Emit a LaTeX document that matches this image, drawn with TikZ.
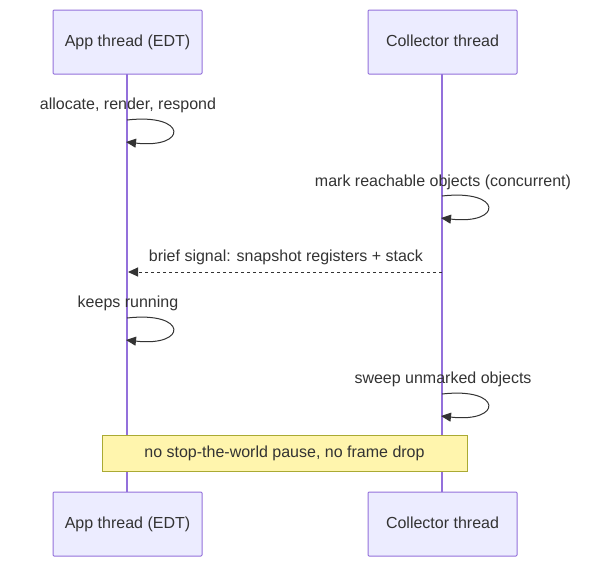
\documentclass[tikz,border=0pt]{standalone}
\usepackage{fontspec}
\setmainfont{Liberation Sans}
\usetikzlibrary{arrows.meta}
\definecolor{actfill}{HTML}{ECECFF}
\definecolor{actline}{HTML}{9370DB}
\definecolor{notefill}{HTML}{FFF5AD}
\definecolor{noteline}{HTML}{AAAA33}
\definecolor{txt}{HTML}{333333}
\begin{document}
\begin{tikzpicture}[x=1pt,y=-1pt,
  every node/.style={font=\fontsize{16}{19}\selectfont, text=txt},
  actor/.style={draw=actline, line width=1pt, fill=actfill, minimum width=149pt, minimum height=64pt, inner sep=0pt, text height=11.5pt, text depth=3.5pt, rounded corners=1pt},
  life/.style={draw=actline, line width=1.5pt},
  msg/.style={draw=txt, line width=1pt, -{Stealth[length=10pt,width=9pt,inset=0pt]}},
  lbl/.style={inner sep=0pt, anchor=base}]
\useasboundingbox (0,0) rectangle (609,568);
\coordinate (la) at (127,74); \coordinate (lb) at (127,492);
\coordinate (lc) at (442,74); \coordinate (ld) at (442,492);
\draw[life] (la) -- (lb);
\draw[life] (lc) -- (ld);
\node[actor] (a1) at (127.5,42) {App thread (EDT)};
\node[actor] (c1) at (442.5,42) {Collector thread};
\node[actor] (a2) at (127.5,524) {App thread (EDT)};
\node[actor] (c2) at (442.5,524) {Collector thread};
% loop 1
\node[lbl] (t1) at (128,109) {allocate, render, respond};
\coordinate (s1) at (127,120); \coordinate (e1) at (126,142);
\draw[msg] (s1) .. controls (188,113) and (188,149) .. (e1);
% loop 2
\node[lbl] (t2) at (443,186) {mark reachable objects (concurrent)};
\coordinate (s2) at (442,196); \coordinate (e2) at (441,218);
\draw[msg] (s2) .. controls (503,189) and (503,225) .. (e2);
% dashed
\node[lbl] (t3) at (286,261) {brief signal: snapshot registers + stack};
\coordinate (s3) at (442,272); \coordinate (e3) at (128,272);
\draw[msg, dash pattern=on 3pt off 3pt] (s3) -- (e3);
% loop 3
\node[lbl] (t4) at (128,307) {keeps running};
\coordinate (s4) at (127,318); \coordinate (e4) at (126,340);
\draw[msg] (s4) .. controls (188,311) and (188,347) .. (e4);
% loop 4
\node[lbl] (t5) at (443,383) {sweep unmarked objects};
\coordinate (s5) at (442,394); \coordinate (e5) at (441,416);
\draw[msg] (s5) .. controls (503,387) and (503,423) .. (e5);
% note
\node[draw=noteline, fill=notefill, minimum width=365pt, minimum height=36pt, inner sep=0pt, text height=11.5pt, text depth=3.5pt] (n) at (284.5,453) {no stop-the-world pause, no frame drop};
\end{tikzpicture}
\end{document}
